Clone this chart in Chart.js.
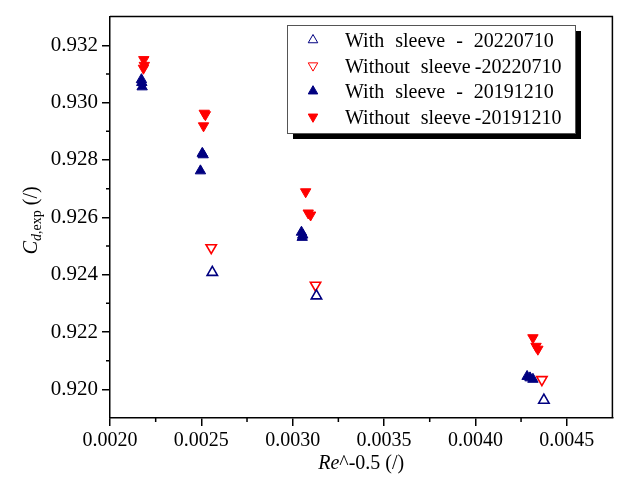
<!DOCTYPE html>
<html>
<head>
<meta charset="utf-8">
<title>Cd,exp vs Re^-0.5</title>
<script src="https://cdn.jsdelivr.net/npm/chart.js@4/dist/chart.umd.min.js"></script>
<style>
    html, body { margin: 0; padding: 0; background: #fff; }
    #wrap { width: 620px; height: 482px; }
</style>
</head>
<body>
<div id="wrap"><canvas id="cdChart" width="620" height="482"></canvas></div>
<script>
// ============================
// Data
// ============================
const seriesLabels = [
    'With sleeve - 20220710',
    'Without sleeve\u2009-20220710',
    'With sleeve - 20191210',
    'Without sleeve\u2009-20191210'
];

// open markers, 20220710
const withSleeve2022X = [0.002560, 0.003130, 0.004375];
const withSleeve2022Y = [0.92408, 0.92326, 0.91962];
const withoutSleeve2022X = [0.002554, 0.003125, 0.004364];
const withoutSleeve2022Y = [0.92494, 0.92363, 0.92034];

// filled markers, 20191210
const withSleeve2019X = [0.002172, 0.002174, 0.002176, 0.002505, 0.002510, 0.002495,
                         0.003048, 0.003055, 0.003052, 0.004283, 0.004299, 0.004315];
const withSleeve2019Y = [0.93080, 0.93070, 0.93055, 0.92823, 0.92818, 0.92762,
                         0.92548, 0.92538, 0.92530, 0.92045, 0.92040, 0.92035];
const withoutSleeve2019X = [0.002185, 0.002188, 0.002183, 0.002516, 0.002522, 0.002512,
                            0.003071, 0.003085, 0.003098, 0.004315, 0.004332, 0.004342];
const withoutSleeve2019Y = [0.93150, 0.93130, 0.93120, 0.92963, 0.92958, 0.92919,
                            0.92689, 0.92615, 0.92608, 0.92180, 0.92150, 0.92140];

// axis ranges / ticks
const xRange = [0.0020, 0.00475];
const yRange = [0.919, 0.933];
const xMajorTicks = [0.0020, 0.0025, 0.0030, 0.0035, 0.0040, 0.0045];
const yMajorTicks = [0.920, 0.922, 0.924, 0.926, 0.928, 0.930, 0.932];
const xMinorTicks = [0.00225, 0.00275, 0.00325, 0.00375, 0.00425];
const yMinorTicks = [0.921, 0.923, 0.925, 0.927, 0.929, 0.931];

const BLUE = '#000080';
const RED = '#ff0000';
const SERIF = '"Liberation Serif", "Times New Roman", serif';

const toPoints = (xs, ys) => xs.map((x, i) => ({ x, y: ys[i] }));

// ============================
// Plugins: frame + minor ticks, axis titles, legend
// ============================
const framePlugin = {
    id: 'frame',
    afterDraw(chart) {
        const { ctx, chartArea: a, scales: { x, y } } = chart;
        ctx.save();
        ctx.strokeStyle = '#000';
        ctx.lineWidth = 1.5;
        ctx.beginPath();
        ctx.moveTo(a.left, a.top);
        ctx.lineTo(a.right, a.top);
        ctx.lineTo(a.right, a.bottom);
        ctx.stroke();

        // minor ticks (outside)
        ctx.beginPath();
        xMinorTicks.forEach(v => {
            const px = x.getPixelForValue(v);
            ctx.moveTo(px, a.bottom);
            ctx.lineTo(px, a.bottom + 4);
        });
        yMinorTicks.forEach(v => {
            const py = y.getPixelForValue(v);
            ctx.moveTo(a.left, py);
            ctx.lineTo(a.left - 4, py);
        });
        ctx.stroke();
        ctx.restore();
    }
};

const titlesPlugin = {
    id: 'axisTitles',
    afterDraw(chart) {
        const { ctx, chartArea: a } = chart;
        ctx.save();
        ctx.fillStyle = '#000';
        ctx.textBaseline = 'alphabetic';
        ctx.textAlign = 'left';

        // x title: Re^-0.5 (/)
        const big = '20px ' + SERIF;
        const bigIt = 'italic 20px ' + SERIF;
        ctx.font = bigIt;
        const wRe = ctx.measureText('Re').width;
        ctx.font = big;
        const wRest = ctx.measureText('^-0.5 (/)').width;
        let x0 = (a.left + a.right) / 2 - (wRe + wRest) / 2;
        ctx.font = bigIt;
        ctx.fillText('Re', x0, 469);
        ctx.font = big;
        ctx.fillText('^-0.5 (/)', x0 + wRe, 469);

        // y title: C_d,exp (/) rotated
        const subIt = 'italic 14px ' + SERIF;
        const sub = '14px ' + SERIF;
        ctx.font = bigIt; const wC = ctx.measureText('C').width;
        ctx.font = subIt; const wD = ctx.measureText('d').width;
        ctx.font = sub; const wExp = ctx.measureText(',exp').width;
        ctx.font = big; const wUnit = ctx.measureText(' (/)').width;
        const total = wC + wD + wExp + wUnit;

        ctx.translate(37, (a.top + a.bottom) / 2 + 3);
        ctx.rotate(-Math.PI / 2);
        let p = -total / 2;
        ctx.font = bigIt; ctx.fillText('C', p, 0); p += wC;
        ctx.font = subIt; ctx.fillText('d', p, 4); p += wD;
        ctx.font = sub; ctx.fillText(',exp', p, 4); p += wExp;
        ctx.font = big; ctx.fillText(' (/)', p, 0);
        ctx.restore();
    }
};

const legendPlugin = {
    id: 'boxLegend',
    afterDraw(chart) {
        const { ctx } = chart;
        const box = { x: 287, y: 25, w: 288, h: 108 };
        ctx.save();
        // shadow
        ctx.fillStyle = '#000';
        ctx.fillRect(box.x + 6, box.y + 6, box.w, box.h);
        ctx.fillStyle = '#fff';
        ctx.fillRect(box.x, box.y, box.w, box.h);
        ctx.strokeStyle = '#555';
        ctx.lineWidth = 1;
        ctx.strokeRect(box.x + 0.5, box.y + 0.5, box.w, box.h);

        ctx.font = '20px ' + SERIF;
        ctx.textBaseline = 'alphabetic';
        ctx.textAlign = 'left';
        if ('wordSpacing' in ctx) ctx.wordSpacing = '6px';

        chart.data.datasets.forEach((ds, i) => {
            const base = 47 + i * 25.6;
            const cy = base - 7;
            ctx.fillStyle = ds.backgroundColor;
            ctx.strokeStyle = ds.borderColor;
            Chart.helpers.drawPoint(ctx, {
                pointStyle: ds.pointStyle,
                rotation: ds.rotation,
                radius: 5.5,
                borderWidth: ds.borderWidth
            }, 313, cy);
            ctx.fillStyle = '#000';
            ctx.fillText(ds.label, 345, base);
        });
        ctx.restore();
    }
};

// ============================
// Chart
// ============================
function makeDataset(label, xs, ys, color, up, open) {
    return {
        label,
        data: toPoints(xs, ys),
        pointStyle: 'triangle',
        rotation: up ? 0 : 180,
        pointRadius: 6,
        pointHoverRadius: 6,
        borderWidth: open ? 1.6 : 1,
        borderColor: color,
        backgroundColor: open ? '#fff' : color,
        showLine: false
    };
}

const ctx = document.getElementById('cdChart');
const chart = new Chart(ctx.getContext('2d'), {
    type: 'scatter',
    data: {
        datasets: [
            makeDataset(seriesLabels[0], withSleeve2022X, withSleeve2022Y, BLUE, true, true),
            makeDataset(seriesLabels[1], withoutSleeve2022X, withoutSleeve2022Y, RED, false, true),
            makeDataset(seriesLabels[2], withSleeve2019X, withSleeve2019Y, BLUE, true, false),
            makeDataset(seriesLabels[3], withoutSleeve2019X, withoutSleeve2019Y, RED, false, false)
        ]
    },
    options: {
        responsive: false,
        devicePixelRatio: 1,
        animation: false,
        layout: { padding: { top: 10, right: 3, left: 0, bottom: 0 } },
        plugins: {
            legend: { display: false },
            tooltip: { enabled: false }
        },
        scales: {
            x: {
                type: 'linear',
                min: xRange[0],
                max: xRange[1],
                afterBuildTicks(scale) { scale.ticks = xMajorTicks.map(value => ({ value })); },
                afterFit(scale) { scale.height = 64; },
                border: { display: true, color: '#000', width: 1.5 },
                grid: { drawOnChartArea: false, drawTicks: true, tickLength: 8, color: '#000', lineWidth: 1.5 },
                ticks: {
                    autoSkip: false,
                    maxRotation: 0,
                    padding: 3,
                    color: '#000',
                    font: { family: SERIF, size: 20 },
                    callback: v => Number(v).toFixed(4)
                }
            },
            y: {
                type: 'linear',
                min: yRange[0],
                max: yRange[1],
                afterBuildTicks(scale) { scale.ticks = yMajorTicks.map(value => ({ value })); },
                afterFit(scale) { scale.width = 110; },
                border: { display: true, color: '#000', width: 1.5 },
                grid: { drawOnChartArea: false, drawTicks: true, tickLength: 8, color: '#000', lineWidth: 1.5 },
                ticks: {
                    autoSkip: false,
                    padding: 4,
                    color: '#000',
                    font: { family: SERIF, size: 21 },
                    callback: v => Number(v).toFixed(3)
                }
            }
        }
    },
    plugins: [framePlugin, titlesPlugin, legendPlugin]
});
</script>
</body>
</html>
